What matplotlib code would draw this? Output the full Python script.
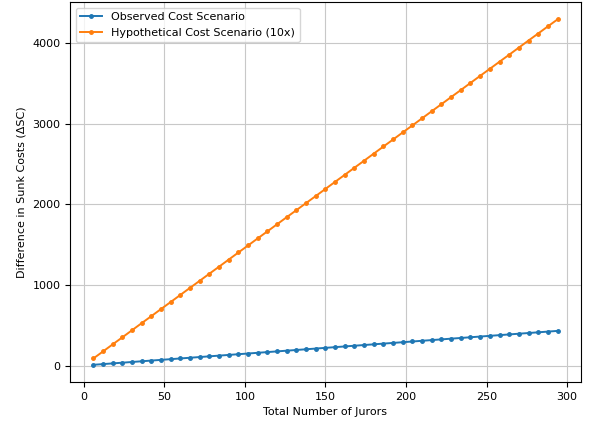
import matplotlib
matplotlib.use("Agg")
import matplotlib.pyplot as plt

# Datos
jurados = [6, 12, 18, 24, 30, 36, 42, 48, 54, 60, 66, 72, 78, 84, 90, 96, 102, 108,
           114, 120, 126, 132, 138, 144, 150, 156, 162, 168, 174, 180, 186, 192, 198,
           204, 210, 216, 222, 228, 234, 240, 246, 252, 258, 264, 270, 276, 282, 288, 294]

costo_observado = [8.8, 17.5, 26.3, 35.0, 43.8, 52.6, 61.3, 70.1, 78.8, 87.6, 96.4,
                   105.1, 113.9, 122.6, 131.4, 140.2, 148.9, 157.7, 166.4, 175.2, 184.0,
                   192.7, 201.5, 210.2, 219.0, 227.8, 236.5, 245.3, 254.0, 262.8, 271.6,
                   280.3, 289.1, 297.8, 306.6, 315.4, 324.1, 332.9, 341.6, 350.4, 359.2,
                   367.9, 376.7, 385.4, 394.2, 403.0, 411.7, 420.5, 429.2]

costo_hipotetico = [88, 175, 263, 350, 438, 526, 613, 701, 788, 876, 964, 1051, 1139,
                    1226, 1314, 1402, 1489, 1577, 1664, 1752, 1840, 1927, 2015, 2102,
                    2190, 2278, 2365, 2453, 2540, 2628, 2716, 2803, 2891, 2978, 3066,
                    3154, 3241, 3329, 3416, 3504, 3592, 3679, 3767, 3854, 3942, 4030,
                    4117, 4205, 4292]

plt.rcParams['font.size'] = 8

fig, ax = plt.subplots(figsize=(5.95, 4.25), dpi=100)
fig.subplots_adjust(left=0.118, right=0.976, top=0.995, bottom=0.101)

ax.plot(jurados, costo_observado, marker='o', markersize=2.5, linewidth=1.4,
        label="Observed Cost Scenario")
ax.plot(jurados, costo_hipotetico, marker='o', markersize=2.5, linewidth=1.4,
        label="Hypothetical Cost Scenario (10x)")

ax.set_xlabel("Total Number of Jurors")
ax.set_ylabel("Difference in Sunk Costs (ΔSC)")
ax.grid(True, color='#c8c8c8')
ax.legend(loc='upper left')

fig.savefig("out.png", dpi=100)
